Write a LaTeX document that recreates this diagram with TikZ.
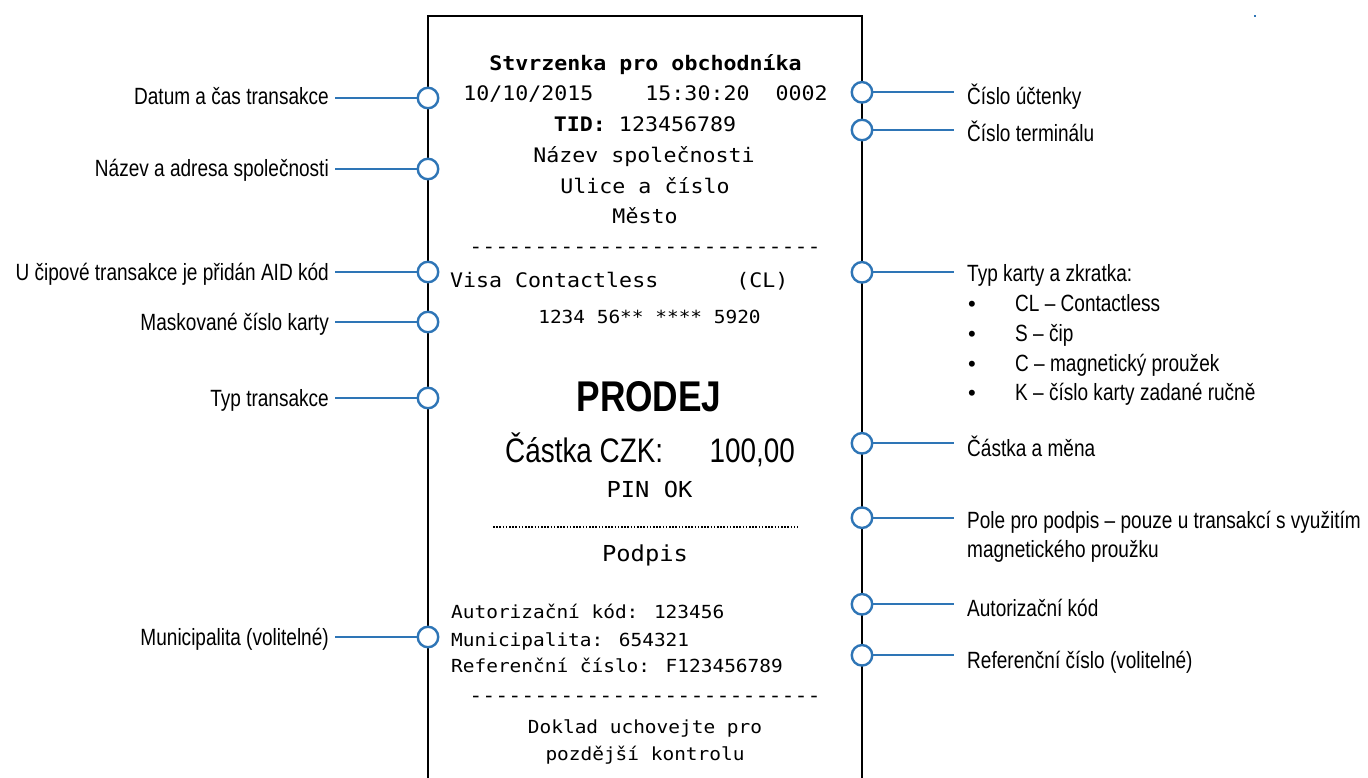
\documentclass[tikz,border=0pt]{standalone}
\usepackage{fontspec}
\setmainfont{Liberation Sans}
\newfontfamily\labf[FakeStretch=0.81]{Liberation Sans}
\newfontfamily\narf[FakeStretch=0.82]{Liberation Sans}
\newfontfamily\monof[FakeStretch=1.08]{DejaVu Sans Mono}
\definecolor{cblue}{RGB}{46,117,182}
\begin{document}
\begin{tikzpicture}[x=1pt,y=-1pt,
  lab/.style={font=\labf\fontsize{23.5}{28}\selectfont, inner sep=0pt},
  bul/.style={font=\fontsize{22}{26}\selectfont, inner sep=0pt, anchor=base},
  rc/.style={font=\monof\fontsize{20}{24}\selectfont, inner sep=0pt},
  rcs/.style={font=\monof\fontsize{18}{22}\selectfont, inner sep=0pt},
  rcl/.style={font=\monof\fontsize{22}{26}\selectfont, inner sep=0pt},
  pin/.style={circle, draw=cblue, fill=white, line width=2.4pt, minimum size=20.5pt, inner sep=0pt},
  conn/.style={draw=cblue, line width=2.2pt},
  paper/.style={draw=black, line width=2.2pt}]
\useasboundingbox (0,0) rectangle (1368,778);
% receipt outline
\draw[paper] (428,778) -- (428,15.7) -- (862,15.7) -- (862,778);
\fill[cblue] (1254,15) rectangle (1256,17);

% receipt content
\node[rc, anchor=base, font=\monof\bfseries\fontsize{20}{24}\selectfont] (t1) at (645.5,71) {Stvrzenka pro obchodníka};
\node[rc, anchor=base] (t2) at (645.5,101) {10/10/2015\ \ \ \ 15:30:20\ \ 0002};
\node[rc, anchor=base] (t3) at (645,131.7) {\bfseries TID:\mdseries\ 123456789};
\node[rc, anchor=base] (t4) at (644,162.3) {Název společnosti};
\node[rc, anchor=base] (t5) at (645,193.3) {Ulice a číslo};
\node[rc, anchor=base] (t6) at (645,224) {Město};
\node[rc, anchor=base] (t7) at (645,254) {---------------------------};
\node[rc, anchor=base west] (t8) at (450,287.7) {Visa Contactless\ \ \ \ \ \ (CL)};
\node[rcs, anchor=base] (t9) at (649.5,323.3) {1234 56** **** 5920};
\node[font=\narf\bfseries\fontsize{43}{48}\selectfont, inner sep=0pt, anchor=base] (t10) at (649,411.7) {PRODEJ};
\node[font=\narf\fontsize{34}{38}\selectfont, inner sep=0pt, anchor=base west] (t11) at (505,462.7) {Částka CZK:};
\node[font=\narf\fontsize{34}{38}\selectfont, inner sep=0pt, anchor=base east] (t12) at (795,462.7) {100,00};
\node[rcl, anchor=base] (t13) at (649.5,497.7) {PIN OK};
\draw[line width=2pt, dash pattern=on 1.6pt off 1.6pt] (493,527) -- (798,527);
\node[rcl, anchor=base] (t14) at (645,561.7) {Podpis};
\node[rcs, anchor=base west] (t15) at (451,618.3) {Autorizační kód: 123456};
\node[rcs, anchor=base west] (t16) at (451,646) {Municipalita: 654321};
\node[rcs, anchor=base west] (t17) at (451,672.7) {Referenční číslo: F123456789};
\node[rc, anchor=base] (t18) at (645,702) {---------------------------};
\node[rcs, anchor=base] (t19) at (645,733.3) {Doklad uchovejte pro};
\node[rcs, anchor=base] (t20) at (645,760) {pozdější kontrolu};

% left callouts
\node[pin] (p1) at (428,98) {};
\node[pin] (p2) at (428,169) {};
\node[pin] (p3) at (428,272) {};
\node[pin] (p4) at (428,322) {};
\node[pin] (p5) at (428,398) {};
\node[pin] (p6) at (428,637) {};
\foreach \i/\y in {1/98,2/169,3/272,4/322,5/398,6/637}{
  \coordinate (e\i) at (335,\y);
  \draw[conn] (e\i) -- (p\i);
}
\node[lab, anchor=base east] (l1) at (329,105) {Datum a čas transakce};
\node[lab, anchor=base east] (l2) at (329,177) {Název a adresa společnosti};
\node[lab, anchor=base east] (l3) at (329,280.7) {U čipové transakce je přidán AID kód};
\node[lab, anchor=base east] (l4) at (329,330.7) {Maskované číslo karty};
\node[lab, anchor=base east] (l5) at (329,406.7) {Typ transakce};
\node[lab, anchor=base east] (l6) at (329,645) {Municipalita (volitelné)};

% right callouts
\node[pin] (q1) at (862,92.3) {};
\node[pin] (q2) at (862,130) {};
\node[pin] (q3) at (862,272.3) {};
\node[pin] (q4) at (862,443.3) {};
\node[pin] (q5) at (862,517.7) {};
\node[pin] (q6) at (862,604.3) {};
\node[pin] (q7) at (862,655.3) {};
\foreach \i/\y in {1/92.3,2/130,3/272.3,4/443.3,5/517.7,6/604.3,7/655.3}{
  \coordinate (f\i) at (954,\y);
  \draw[conn] (q\i) -- (f\i);
}
\node[lab, anchor=base west] (r1) at (967,105) {Číslo účtenky};
\node[lab, anchor=base west] (r2) at (967,142) {Číslo terminálu};
\node[lab, anchor=base west] (r3) at (967,281.7) {Typ karty a zkratka:};
\node[bul] (b1) at (972,311.7) {•};
\node[bul] (b2) at (972,341) {•};
\node[bul] (b3) at (972,371) {•};
\node[bul] (b4) at (972,400) {•};
\node[lab, anchor=base west] (r3a) at (1015,311.7) {CL – Contactless};
\node[lab, anchor=base west] (r3b) at (1015,341) {S – čip};
\node[lab, anchor=base west] (r3c) at (1015,371) {C – magnetický proužek};
\node[lab, anchor=base west] (r3d) at (1015,400) {K – číslo karty zadané ručně};
\node[lab, anchor=base west] (r4) at (967,456) {Částka a měna};
\node[lab, anchor=base west] (r5) at (967,528.3) {Pole pro podpis – pouze u transakcí s využitím};
\node[lab, anchor=base west] (r5b) at (967,557.7) {magnetického proužku};
\node[lab, anchor=base west] (r6) at (967,616.7) {Autorizační kód};
\node[lab, anchor=base west] (r7) at (967,668.3) {Referenční číslo (volitelné)};
\end{tikzpicture}
\end{document}
